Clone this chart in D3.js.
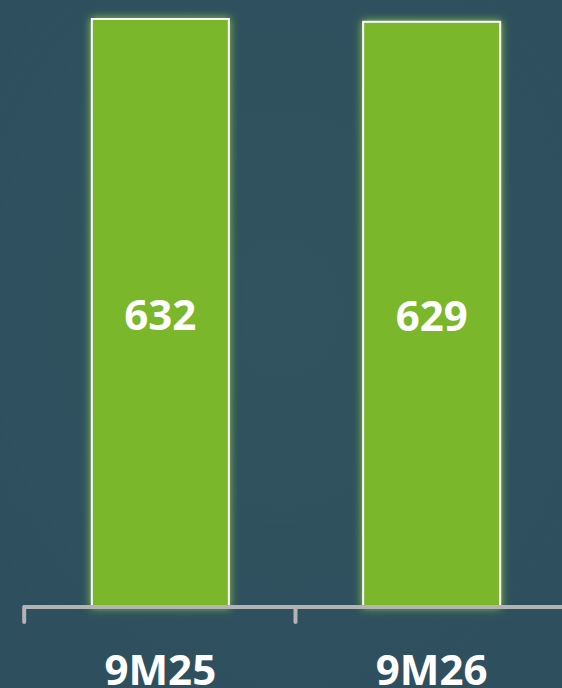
<!DOCTYPE html>
<html><head><meta charset="utf-8">
<script src="https://cdn.jsdelivr.net/npm/d3@7"></script>
<style>
html,body{margin:0;padding:0;background:#2f5160;overflow:hidden;}
svg{display:block;}
</style></head>
<body>
<script>
const categories = ["9M25", "9M26"];
const values = [632, 629];
const valueLabels = ["632", "629"];

const W = 562, H = 688;
const svg = d3.select("body").append("svg").attr("width", W).attr("height", H);
const defs = svg.append("defs");
const bg = defs.append("radialGradient").attr("id","bg").attr("cx","50%").attr("cy","45%").attr("r","75%");
bg.append("stop").attr("offset","0%").attr("stop-color","#30535f");
bg.append("stop").attr("offset","100%").attr("stop-color","#2e4f5e");
svg.append("rect").attr("width",W).attr("height",H).attr("fill","url(#bg)");

const glow = defs.append("filter").attr("id","glow").attr("x","-20%").attr("y","-5%").attr("width","140%").attr("height","110%");
glow.append("feGaussianBlur").attr("in","SourceAlpha").attr("stdDeviation",4.5).attr("result","b");
glow.append("feFlood").attr("flood-color","#8fd13a").attr("flood-opacity",0.95);
glow.append("feComposite").attr("in2","b").attr("operator","in").attr("result","g");
const m = glow.append("feMerge");
m.append("feMergeNode").attr("in","g");
m.append("feMergeNode").attr("in","SourceGraphic");

const x = d3.scaleBand().domain(categories).range([24, 568]).paddingInner(0.495).paddingOuter(0.25);
const baseY = 607;
const y = d3.scaleLinear().domain([0, 632]).range([baseY, 19]);

svg.selectAll("rect.bar").data(values).join("rect").attr("class","bar")
  .attr("x",(d,i)=>x(categories[i]))
  .attr("y",d=>y(d))
  .attr("width",x.bandwidth())
  .attr("height",d=>baseY-y(d))
  .attr("fill","#7ab72c")
  .attr("stroke","#ffffff").attr("stroke-width",2)
  .attr("filter","url(#glow)");

svg.selectAll("text.val").data(values).join("text").attr("class","val")
  .attr("x",(d,i)=>x(categories[i])+x.bandwidth()/2)
  .attr("y",d=>(y(d)+baseY)/2+17)
  .attr("text-anchor","middle")
  .attr("font-family","'Open Sans', sans-serif").attr("font-weight",700)
  .attr("font-size",42).attr("fill","#ffffff")
  .text((d,i)=>valueLabels[i]);

// axis
const ax = svg.append("g");
ax.append("line").attr("x1",23).attr("x2",W+5).attr("y1",baseY).attr("y2",baseY)
  .attr("stroke","#b3b3b3").attr("stroke-width",4);
const tickXs = categories.map(c=>x(c) - x.step()*x.paddingInner()/2 - 0.5);
ax.selectAll("line.tick").data(tickXs).join("line").attr("class","tick")
  .attr("x1",d=>d).attr("x2",d=>d).attr("y1",baseY).attr("y2",622)
  .attr("stroke","#b3b3b3").attr("stroke-width",4).attr("stroke-linecap","round");

svg.selectAll("text.cat").data(categories).join("text").attr("class","cat")
  .attr("x",d=>x(d)+x.bandwidth()/2)
  .attr("y",685)
  .attr("text-anchor","middle")
  .attr("font-family","'Open Sans', sans-serif").attr("font-weight",700)
  .attr("font-size",42).attr("fill","#ffffff")
  .text(d=>d);
</script>
</body></html>
